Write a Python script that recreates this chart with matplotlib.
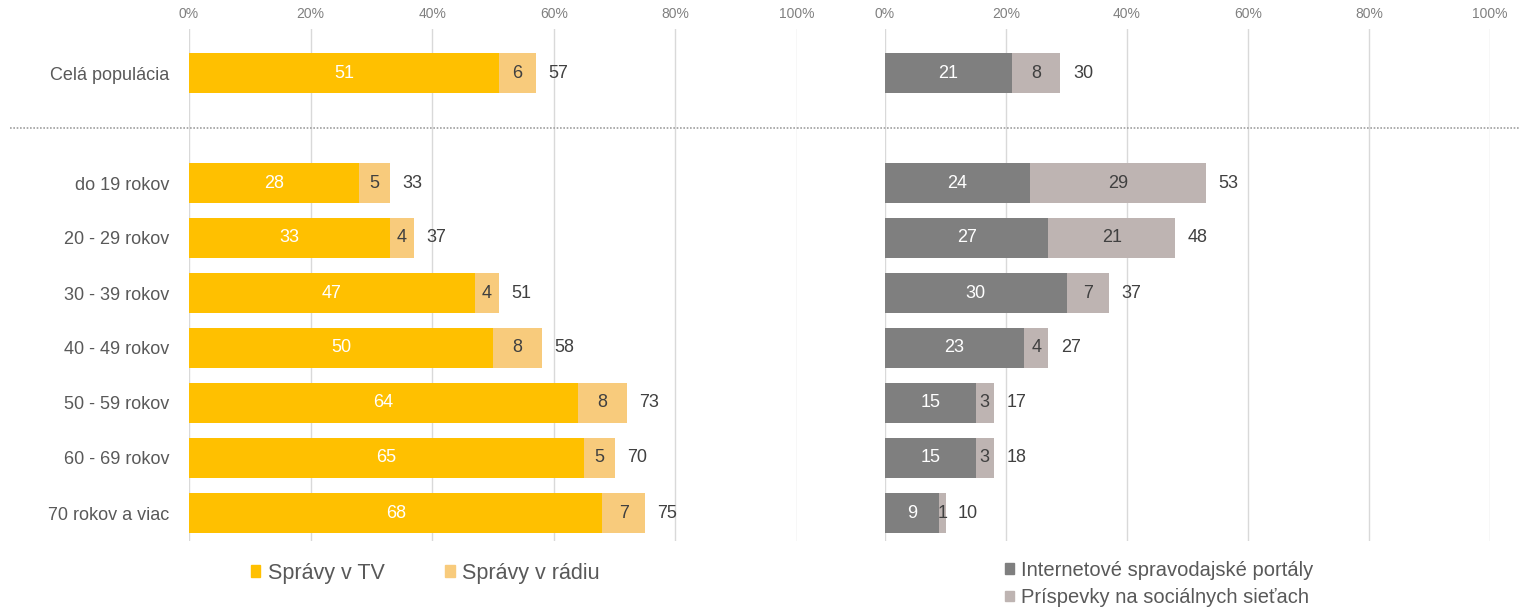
import matplotlib
matplotlib.use("Agg")
import matplotlib.pyplot as plt
from matplotlib.patches import Patch
import numpy as np

categories = ["Celá populácia", "do 19 rokov", "20 - 29 rokov", "30 - 39 rokov",
              "40 - 49 rokov", "50 - 59 rokov", "60 - 69 rokov", "70 rokov a viac"]
tv = [51, 28, 33, 47, 50, 64, 65, 68]
radio = [6, 5, 4, 4, 8, 8, 5, 7]
left_total = [57, 33, 37, 51, 58, 73, 70, 75]
internet = [21, 24, 27, 30, 23, 15, 15, 9]
social = [8, 29, 21, 7, 4, 3, 3, 1]
right_total = [30, 53, 48, 37, 27, 17, 18, 10]
xticks = [0, 20, 40, 60, 80, 100]
xtick_labels = ["0%", "20%", "40%", "60%", "80%", "100%"]
legend_left = ["Správy v TV", "Správy v rádiu"]
legend_right = ["Internetové spravodajské portály", "Príspevky na sociálnych sieťach"]

plt.rcParams["font.family"] = ["Liberation Sans", "DejaVu Sans"]

C_TV = "#FFC000"
C_RADIO = "#F8CB7C"
C_NET = "#7F7F7F"
C_SOC = "#BEB4B2"
TXT = "#404040"
LBL = "#595959"
GRID = "#D9D9D9"

fig = plt.figure(figsize=(15.19, 6.10), dpi=100)
W, H = 1519, 610
bottom = 1 - 540.5 / H
top = 1 - 29 / H
axL = fig.add_axes([189 / W, bottom, (797 - 189) / W, top - bottom])
axR = fig.add_axes([885 / W, bottom, (1490 - 885) / W, top - bottom])

ypos = np.array([0] + list(range(2, 2 + len(categories) - 1)))
bh = 0.73
FS = 13

def style(ax, show_labels):
    ax.set_xlim(0, 100)
    ax.set_ylim(8.5, -0.8)
    for s in ax.spines.values():
        s.set_visible(False)
    ax.xaxis.tick_top()
    ax.set_xticks(xticks)
    ax.set_xticklabels(xtick_labels)
    ax.tick_params(axis="x", length=0, pad=6, labelsize=10, labelcolor="#808080")
    ax.grid(axis="x", color=GRID, lw=1)
    ax.set_axisbelow(True)
    if show_labels:
        ax.set_yticks(ypos)
        ax.set_yticklabels(categories)
        ax.tick_params(axis="y", length=0, pad=14, labelsize=FS, labelcolor=LBL)
    else:
        ax.set_yticks([])

style(axL, True)
style(axR, False)

def draw(ax, a, b, tot, ca, cb, ta, tb):
    ax.barh(ypos, a, height=bh, color=ca, zorder=2)
    ax.barh(ypos, b, left=a, height=bh, color=cb, zorder=2)
    for y, va, vb, t in zip(ypos, a, b, tot):
        ax.text(va / 2, y, str(va), ha="center", va="center", color=ta, fontsize=FS, zorder=3)
        ax.text(va + vb / 2, y, str(vb), ha="center", va="center", color=tb, fontsize=FS, zorder=3)
        ax.annotate(str(t), (va + vb, y), xytext=(9, 0), textcoords="offset points",
                    ha="left", va="center", color=TXT, fontsize=FS)

draw(axL, tv, radio, left_total, C_TV, C_RADIO, "white", TXT)
draw(axR, internet, social, right_total, C_NET, C_SOC, "white", TXT)

axL.axhline(1, xmin=(10 - 189) / 608, xmax=1.0, color="#A0A0A0", lw=1.2,
            ls=(0, (1, 1)), clip_on=False, zorder=1)
axR.axhline(1, xmin=(797 - 885) / 605, xmax=(1519 - 885) / 605, color="#A0A0A0", lw=1.2,
            ls=(0, (1, 1)), clip_on=False, zorder=1)

hl = [Patch(color=C_TV), Patch(color=C_RADIO)]
fig.legend(hl, legend_left, loc="center left", bbox_to_anchor=(240 / W, 1 - 573 / H), ncol=2,
           frameon=False, fontsize=15.5, handlelength=0.45, handleheight=0.45,
           handletextpad=0.35, columnspacing=2.8, labelcolor=LBL, borderpad=0)
hr = [Patch(color=C_NET), Patch(color=C_SOC)]
fig.legend(hr, legend_right, loc="upper left", bbox_to_anchor=(995 / W, 1 - 551 / H), ncol=1,
           frameon=False, fontsize=14.5, handlelength=0.45, handleheight=0.45,
           handletextpad=0.35, labelspacing=0.4, labelcolor=LBL, borderpad=0)

fig.savefig("out.png", dpi=100)
